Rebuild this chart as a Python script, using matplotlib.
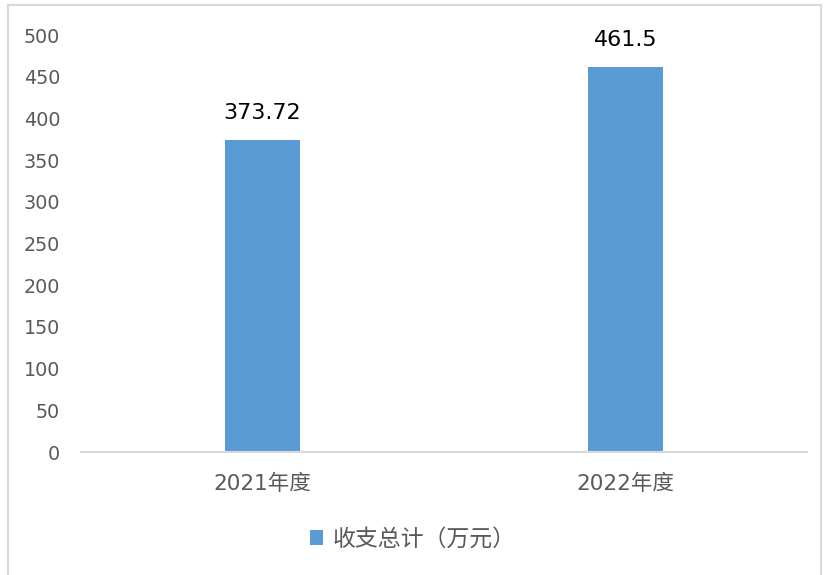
import matplotlib
matplotlib.use('Agg')
import matplotlib.pyplot as plt
from matplotlib.patches import Rectangle

plt.rcParams['font.family'] = ['DejaVu Sans', 'Noto Sans CJK SC']

categories = ['2021年度', '2022年度']
values = [373.72, 461.5]
value_labels = ['373.72', '461.5']
series_name = '收支总计（万元）'

fig = plt.figure(figsize=(8.25, 5.75), dpi=100)
ax = fig.add_axes([0.0982, 0.2139, 0.8798, 0.7251])

bars = ax.bar(range(len(categories)), values, width=0.207, color='#5B9BD5', label=series_name)
for b, t in zip(bars, value_labels):
    ax.text(b.get_x() + b.get_width() / 2, b.get_height() + 21, t,
            ha='center', va='bottom', fontsize=16, color='black')

ax.set_xlim(-0.5, 1.5)
ax.set_ylim(0, 500)
ax.set_yticks(range(0, 501, 50))
ax.set_xticks(range(len(categories)))
ax.set_xticklabels(categories, fontsize=15.5)
ax.tick_params(axis='both', length=0, labelcolor='#595959')
ax.tick_params(axis='y', labelsize=13.8, pad=15)
ax.tick_params(axis='x', pad=16)
for s in ['left', 'right', 'top']:
    ax.spines[s].set_visible(False)
ax.spines['bottom'].set_color('#D9D9D9')
ax.spines['bottom'].set_linewidth(1.5)

leg = fig.legend(loc='center', bbox_to_anchor=(0.5, 0.062), frameon=False,
                 fontsize=16.5, handlelength=0.6, handleheight=0.6, handletextpad=0.4)
for t in leg.get_texts():
    t.set_color('#595959')

fig.patches.append(Rectangle((0.0097, -0.01), 0.985, 1.0013, transform=fig.transFigure,
                             fill=False, edgecolor='#D9D9D9', linewidth=1.5))

fig.savefig('out.png', dpi=100)
